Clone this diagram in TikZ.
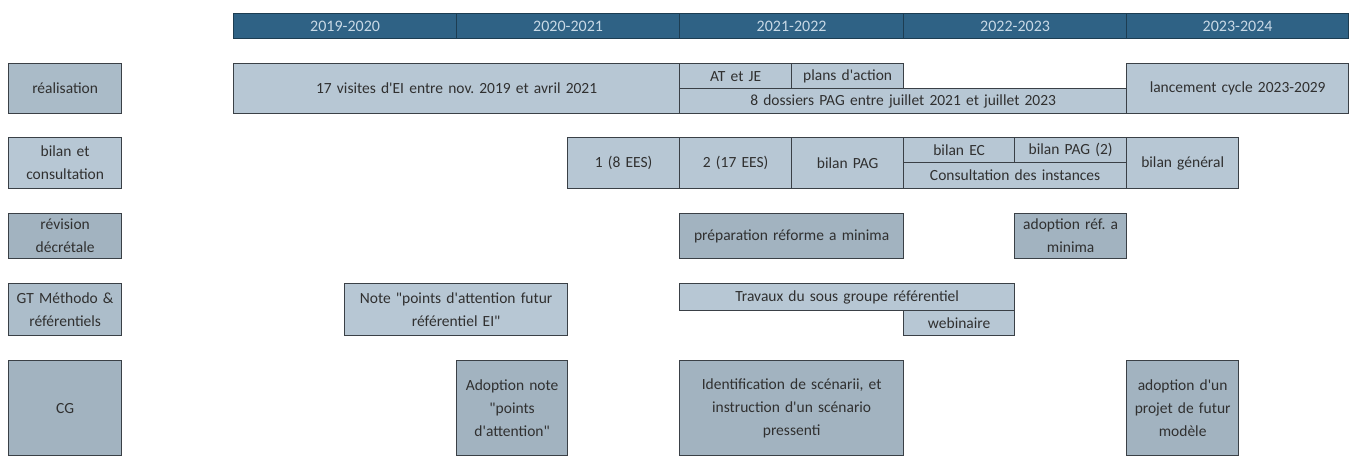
\documentclass[tikz,border=0pt]{standalone}
\usepackage{fontspec}
\setmainfont{Carlito}
\newcommand\dq{{\XeTeXglyph\XeTeXcharglyph"22\relax}}
\newcommand\ap{{\XeTeXglyph\XeTeXcharglyph"27\relax}}
\definecolor{hdr}{HTML}{2F6285}
\definecolor{hdrline}{HTML}{1D3D52}
\definecolor{hdrtext}{HTML}{C8D9E6}
\definecolor{lite}{HTML}{B7C7D4}
\definecolor{dark}{HTML}{A2B3C0}
\definecolor{edge}{HTML}{3A4046}
\definecolor{txt}{HTML}{303030}
\tikzset{
  cell/.style={draw=edge, line width=1.3pt, inner sep=0pt, text=txt, font=\fontsize{15.5}{23}\selectfont},
  litebox/.style={cell, fill=lite},
  darkbox/.style={cell, fill=dark},
  yearbox/.style={draw=hdrline, line width=1.2pt, fill=hdr, text=hdrtext, inner sep=0pt, font=\fontsize{16}{18}\selectfont},
}
\newcommand\bx[7]{%
  \pgfmathsetmacro\bw{#4-#2}\pgfmathsetmacro\bh{#5-#3}\pgfmathsetmacro\tw{#4-#2-2}%
  \node[#6, minimum width=\bw pt, minimum height=\bh pt, text width=\tw pt, align=center, anchor=north west] (#1) at (#2,#3) {#7};}
\begin{document}
\begin{tikzpicture}[x=1pt,y=-1pt]
\useasboundingbox (0,0) rectangle (1355,457);
% header
\bx{y1}{233}{13}{456}{38}{yearbox}{2019-2020}
\bx{y2}{456}{13}{679}{38}{yearbox}{2020-2021}
\bx{y3}{679}{13}{903}{38}{yearbox}{2021-2022}
\bx{y4}{903}{13}{1126}{38}{yearbox}{2022-2023}
\bx{y5}{1126}{13}{1348}{38}{yearbox}{2023-2024}
% row labels
\bx{l1}{8}{63}{121}{113}{cell, fill=dark!60!lite}{réalisation}
\bx{l2}{8}{137}{121}{188}{litebox}{bilan et\\consultation}
\bx{l3}{8}{213}{121}{258}{darkbox}{révision\\décrétale}
\bx{l4}{8}{283}{121}{335}{cell, fill=dark!50!lite}{GT Méthodo \&\\référentiels}
\bx{l5}{8}{360}{121}{455}{darkbox}{CG}
% row 1
\bx{r1a}{233}{63}{679}{113}{litebox}{17 visites d\ap EI entre nov.\ 2019 et avril 2021}
\bx{r1b}{679}{63}{791}{88}{litebox}{AT et JE}
\bx{r1c}{791}{63}{903}{88}{litebox}{plans d\ap action}
\bx{r1d}{679}{88}{1126}{113}{litebox}{8 dossiers PAG entre juillet 2021 et juillet 2023}
\bx{r1e}{1126}{63}{1348}{113}{litebox}{lancement cycle 2023-2029}
% row 2
\bx{r2a}{567}{137}{679}{188}{litebox}{1 (8 EES)}
\bx{r2b}{679}{137}{791}{188}{litebox}{2 (17 EES)}
\bx{r2c}{791}{137}{903}{188}{litebox}{bilan PAG}
\bx{r2d}{903}{137}{1014}{162}{litebox}{bilan EC}
\bx{r2e}{1014}{137}{1126}{162}{litebox}{bilan PAG (2)}
\bx{r2f}{903}{162}{1126}{188}{litebox}{Consultation des instances}
\bx{r2g}{1126}{137}{1238}{188}{litebox}{bilan général}
% row 3
\bx{r3a}{679}{213}{903}{258}{darkbox}{préparation réforme a minima}
\bx{r3b}{1014}{213}{1126}{258}{darkbox}{adoption réf.\ a\\minima}
% row 4
\bx{r4a}{344}{283}{567}{335}{litebox}{Note \dq points d\ap attention futur\\référentiel EI\dq}
\bx{r4b}{679}{283}{1014}{310}{litebox}{Travaux du sous groupe référentiel}
\bx{r4c}{903}{310}{1014}{335}{litebox}{webinaire}
% row 5
\bx{r5a}{456}{360}{567}{455}{darkbox}{Adoption note\\\dq points\\d\ap attention\dq}
\bx{r5b}{679}{360}{903}{455}{darkbox}{Identification de scénarii, et\\instruction d\ap un scénario\\pressenti}
\bx{r5c}{1126}{360}{1238}{455}{darkbox}{adoption d\ap un\\projet de futur\\modèle}
\end{tikzpicture}
\end{document}
